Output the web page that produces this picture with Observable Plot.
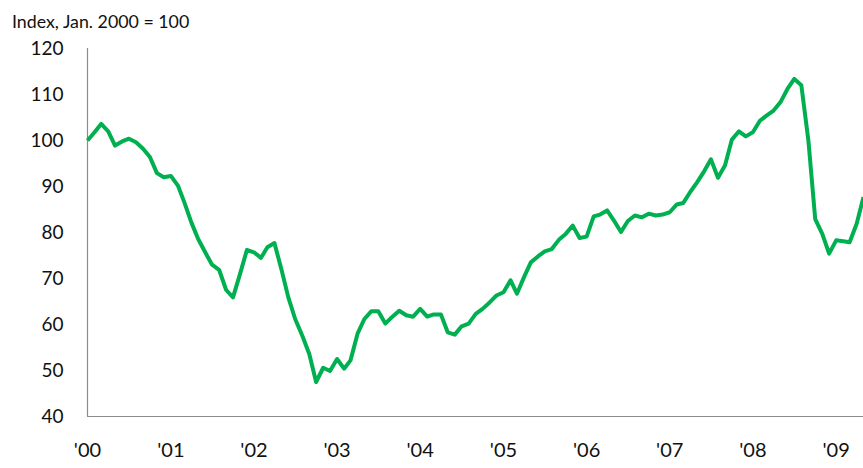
<!DOCTYPE html>
<html>
<head>
<meta charset="utf-8">
<script src="https://cdn.jsdelivr.net/npm/d3@7"></script>
<script src="https://cdn.jsdelivr.net/npm/@observablehq/plot@0.6"></script>
<style>
  html, body { margin: 0; padding: 0; background: #fff; }
  #title { font-family: Lato, "Open Sans", sans-serif; font-size: 17.8px; color: #111;
           height: 34px; line-height: 24px; padding-top: 9px; padding-left: 12px; box-sizing: border-box; white-space: nowrap; }
</style>
</head>
<body>
<div id="title">Index, Jan. 2000 = 100</div>
<div id="chart"></div>
<script>
// Monthly index values, Jan. 2000 = 100
const v2000 = [100, 101.8, 103.6, 102.0, 98.9, 99.8, 100.4, 99.6, 98.2, 96.4, 92.9, 92.0];
const v2001 = [92.3, 90.2, 86.6, 82.2, 78.6, 75.7, 73.0, 71.9, 67.5, 65.9, 71.0, 76.2];
const v2002 = [75.7, 74.5, 76.8, 77.7, 72.1, 65.9, 61.2, 57.6, 53.6, 47.5, 50.6, 49.9];
const v2003 = [52.5, 50.4, 52.2, 58.0, 61.2, 62.9, 62.9, 60.2, 61.7, 63.0, 62.0, 61.7];
const v2004 = [63.4, 61.7, 62.2, 62.2, 58.3, 57.8, 59.6, 60.2, 62.3, 63.4, 64.8, 66.3];
const v2005 = [67.0, 69.6, 66.7, 70.3, 73.5, 74.8, 75.9, 76.4, 78.4, 79.7, 81.5, 78.8];
const v2006 = [79.1, 83.5, 83.9, 84.8, 82.6, 80.1, 82.5, 83.7, 83.3, 84.1, 83.7, 83.9];
const v2007 = [84.4, 86.1, 86.4, 88.8, 90.9, 93.3, 95.9, 91.9, 94.6, 100.2, 102.0, 100.9];
const v2008 = [101.8, 104.3, 105.4, 106.5, 108.3, 111.2, 113.4, 112.0, 100.0, 82.9, 79.7, 75.4];
const v2009 = [78.3, 78.1, 77.9, 81.9, 87.7];

const years = [2000, 2001, 2002, 2003, 2004, 2005, 2006, 2007, 2008, 2009];
const series = [v2000, v2001, v2002, v2003, v2004, v2005, v2006, v2007, v2008, v2009];
const yTicks = [40, 50, 60, 70, 80, 90, 100, 110, 120];
const xTickLabel = d => "'" + String(d.getFullYear()).slice(2);

const data = [];
series.forEach((arr, i) => arr.forEach((v, m) => data.push({date: new Date(years[i], m, 1), value: v})));

const start = new Date(2000, 0, 1);
const end = new Date(2009, 4, 1);
const xTicks = years.map(y => new Date(y, 0, 1));

const chart = Plot.plot({
  width: 863,
  height: 434,
  marginLeft: 87,
  marginRight: 0,
  marginTop: 14,
  marginBottom: 52,
  style: {fontFamily: "Lato, 'Open Sans', sans-serif", background: "#fff", color: "#111", overflow: "visible"},
  x: {type: "time", domain: [start, end], ticks: xTicks, tickFormat: xTickLabel, tickSize: 0, tickPadding: 26, label: null},
  y: {domain: [40, 120], ticks: yTicks, tickSize: 0, tickPadding: 24, label: null},
  marks: [
    Plot.axisX({ticks: xTicks, tickFormat: xTickLabel, tickSize: 0, tickPadding: 26, fontSize: 20, label: null}),
    Plot.axisY({ticks: yTicks, tickSize: 0, tickPadding: 24, fontSize: 19, label: null}),
    Plot.ruleY([40], {stroke: "#8c8c8c", strokeWidth: 1.2}),
    Plot.ruleX([start], {y1: 40, y2: 120, stroke: "#8c8c8c", strokeWidth: 1.2}),
    Plot.line(data, {x: "date", y: "value", stroke: "#00b050", strokeWidth: 4, strokeLinejoin: "round", strokeLinecap: "butt"})
  ]
});
document.getElementById("chart").appendChild(chart);
</script>
</body>
</html>
